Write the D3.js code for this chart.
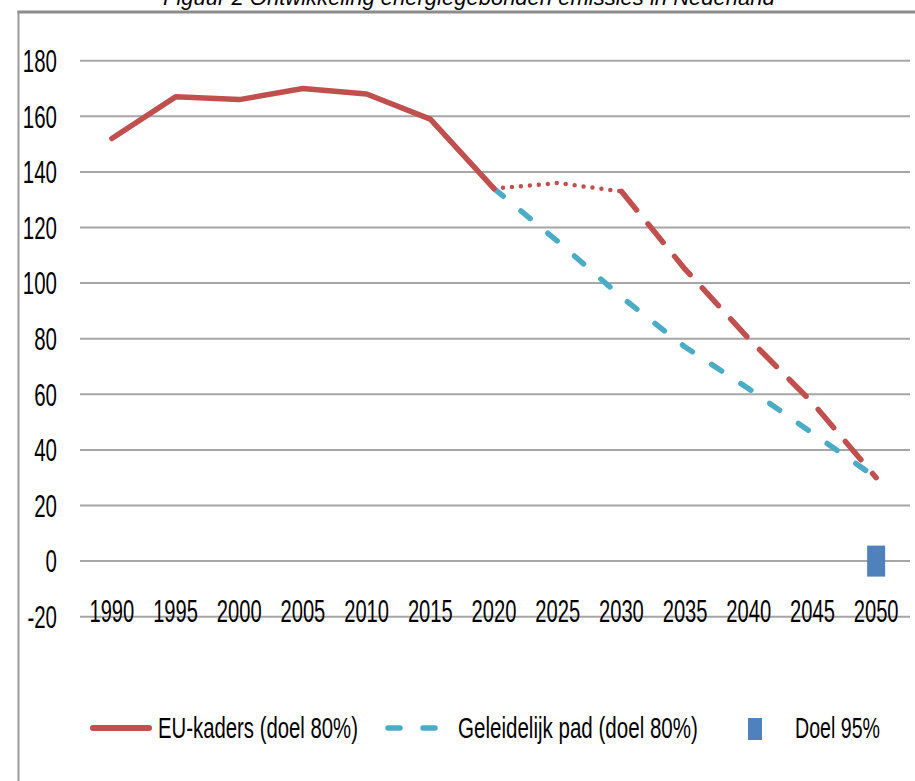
<!DOCTYPE html>
<html>
<head>
<meta charset="utf-8">
<script src="https://cdn.jsdelivr.net/npm/d3@7"></script>
<style>
  html, body { margin: 0; padding: 0; background: #fff; }
  svg { display: block; }
  text { font-family: "Liberation Sans", Arial, sans-serif; fill: #000; }
</style>
</head>
<body>
<script>
// ---- Data ----
const years = ["1990","1995","2000","2005","2010","2015","2020","2025","2030","2035","2040","2045","2050"];
const yTicks = [-20, 0, 20, 40, 60, 80, 100, 120, 140, 160, 180];

const euHistYears = ["1990","1995","2000","2005","2010","2015","2020"];
const euHistValues = [152, 167, 166, 170, 168, 159, 134];

const euDotYears = ["2020","2025","2030"];
const euDotValues = [134, 136, 133];

const euDashYears = ["2030","2035","2040","2045","2050"];
const euDashValues = [133, 105, 80, 57, 30];

const padYears = ["2020","2025","2030","2035","2040","2045","2050"];
const padValues = [134, 115, 95, 77, 62, 46, 30];

const doelYears = ["2050"];
const doelValues = [0];

const titleText = "Figuur 2 Ontwikkeling energiegebonden emissies in Nederland";
const legendLabels = ["EU-kaders (doel 80%)", "Geleidelijk pad (doel 80%)", "Doel 95%"];

// ---- Setup ----
const W = 915, H = 781;
const red = "#c0504d", cyan = "#4bacc6", blue = "#4f81bd", grid = "#a6a6a6";

const svg = d3.select("body").append("svg").attr("width", W).attr("height", H);
svg.append("rect").attr("width", W).attr("height", H).attr("fill", "#fff");

const x = d3.scaleBand().domain(years).range([80, 908]);
const cx = d => x(d) + x.bandwidth() / 2;
const y = d3.scaleLinear().domain([-20, 180]).range([616.7, 60.7]);

// horizontally condense a text around its anchor point (x, y)
function condense(node, px, py, sx) {
  d3.select(node).attr("x", 0).attr("y", 0)
    .attr("transform", `translate(${px},${py}) scale(${sx},1)`);
}

// title (cropped at top, as in the source image)
const title = svg.append("text")
  .attr("font-size", 22).attr("font-style", "italic")
  .text(titleText);
condense(title.node(), 163, 5, 612 / title.node().getComputedTextLength());

// gridlines
svg.append("g").selectAll("line").data(yTicks).join("line")
  .attr("x1", 80).attr("x2", 910)
  .attr("y1", d => y(d)).attr("y2", d => y(d))
  .attr("stroke", grid).attr("stroke-width", 2);

// y axis
const yAxis = svg.append("g").attr("transform", "translate(57,0)")
  .call(d3.axisLeft(y).tickValues(yTicks).tickSize(0).tickPadding(0).tickFormat(d => String(d)));
yAxis.select(".domain").remove();
yAxis.selectAll("text").attr("font-size", 31).attr("font-family", "Liberation Sans, Arial, sans-serif")
  .attr("fill", "#000").attr("dy", "0.35em")
  .each(function () { condense(this, 0, 0, 0.66); });

// x axis
const xAxis = svg.append("g")
  .call(d3.axisBottom(x).tickSize(0).tickPadding(0));
xAxis.select(".domain").remove();
xAxis.selectAll("text").attr("font-size", 31).attr("font-family", "Liberation Sans, Arial, sans-serif")
  .attr("fill", "#000").attr("dy", 0)
  .each(function () { condense(this, 0, 622, 0.65); });

// lines
const line = d3.line().x(d => cx(d[0])).y(d => y(d[1]));
const zip = (a, b) => a.map((d, i) => [d, b[i]]);

svg.append("path").datum(zip(padYears, padValues))
  .attr("d", line).attr("fill", "none").attr("stroke", cyan)
  .attr("stroke-width", 5.5).attr("stroke-linecap", "round").attr("stroke-linejoin", "round")
  .attr("stroke-dasharray", "12 23");

svg.append("path").datum(zip(euDashYears, euDashValues))
  .attr("d", line).attr("fill", "none").attr("stroke", red)
  .attr("stroke-width", 5.5).attr("stroke-linecap", "round").attr("stroke-linejoin", "round")
  .attr("stroke-dasharray", "24 18");

svg.append("path").datum(zip(euDotYears, euDotValues))
  .attr("d", line).attr("fill", "none").attr("stroke", red)
  .attr("stroke-width", 4.5).attr("stroke-linecap", "round")
  .attr("stroke-dasharray", "0 9");

svg.append("path").datum(zip(euHistYears, euHistValues))
  .attr("d", line).attr("fill", "none").attr("stroke", red)
  .attr("stroke-width", 5.5).attr("stroke-linecap", "round").attr("stroke-linejoin", "round");

// Doel 95% marker
svg.append("g").selectAll("rect").data(zip(doelYears, doelValues)).join("rect")
  .attr("x", d => cx(d[0]) - 9).attr("y", d => y(d[1]) - 15.5)
  .attr("width", 18).attr("height", 31).attr("fill", blue);

// legend
const lg = svg.append("g");
lg.append("line").attr("x1", 93).attr("x2", 149).attr("y1", 728).attr("y2", 728)
  .attr("stroke", red).attr("stroke-width", 6).attr("stroke-linecap", "round");
lg.append("line").attr("x1", 388).attr("x2", 436).attr("y1", 728).attr("y2", 728)
  .attr("stroke", cyan).attr("stroke-width", 5.5).attr("stroke-linecap", "round")
  .attr("stroke-dasharray", "12 23");
lg.append("rect").attr("x", 748).attr("y", 718).attr("width", 14).attr("height", 22).attr("fill", blue);

const legendPos = [[158, 200], [458, 240], [795, 85]];
lg.selectAll("text.leg").data(legendLabels).join("text").attr("class", "leg")
  .attr("font-size", 29)
  .text(d => d)
  .each(function (d, i) {
    const w = this.getComputedTextLength();
    condense(this, legendPos[i][0], 738, legendPos[i][1] / w);
  });

// frame
svg.append("line").attr("x1", 18.5).attr("x2", 18.5).attr("y1", 11).attr("y2", H)
  .attr("stroke", "#9a9a9a").attr("stroke-width", 2);
svg.append("line").attr("x1", 17.5).attr("x2", W).attr("y1", 12).attr("y2", 12)
  .attr("stroke", "#8c8c8c").attr("stroke-width", 3);
</script>
</body>
</html>
